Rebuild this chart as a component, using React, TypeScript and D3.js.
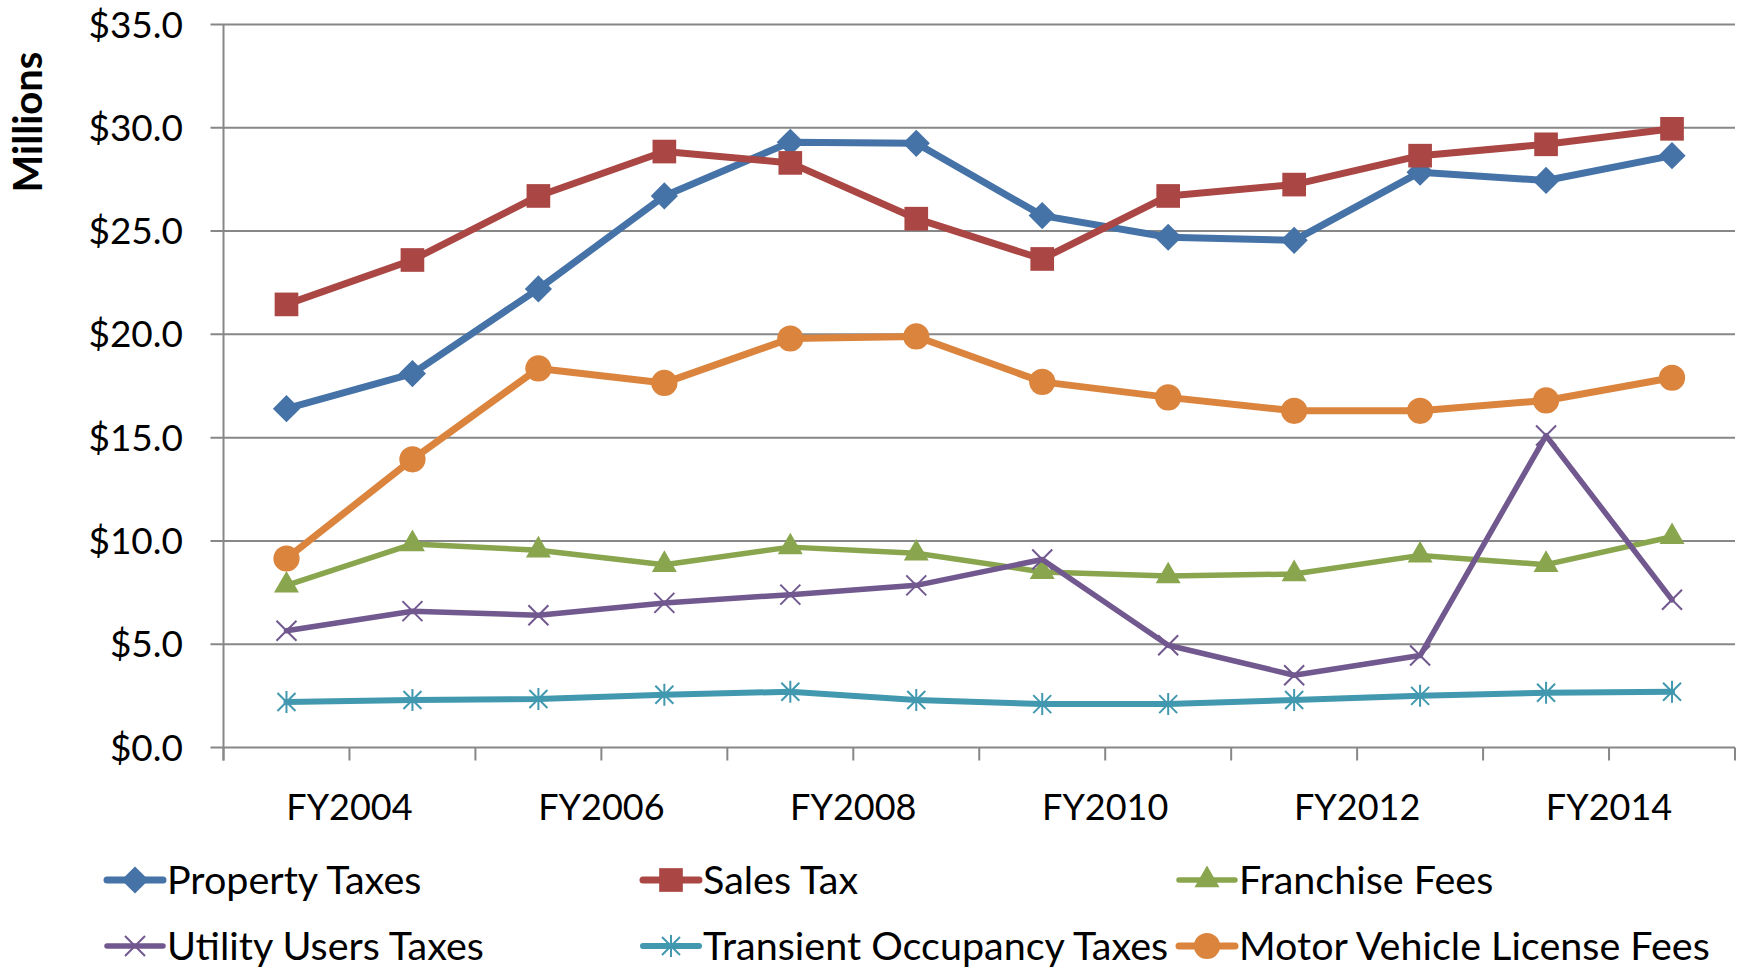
import React, { useEffect, useRef } from "react";
import * as d3 from "d3";

// fiscal years on the category axis
const years = ["FY2004", "FY2005", "FY2006", "FY2007", "FY2008", "FY2009", "FY2010", "FY2011", "FY2012", "FY2013", "FY2014", "FY2015"];
const yTicks = [0, 5, 10, 15, 20, 25, 30, 35];

// values in $ millions
const propertyTaxes = [16.4, 18.1, 22.2, 26.7, 29.3, 29.25, 25.75, 24.7, 24.55, 27.85, 27.45, 28.65];
const salesTax = [21.45, 23.6, 26.7, 28.85, 28.3, 25.6, 23.65, 26.7, 27.25, 28.65, 29.2, 29.95];
const franchiseFees = [7.85, 9.85, 9.55, 8.85, 9.7, 9.4, 8.5, 8.3, 8.4, 9.3, 8.85, 10.2];
const utilityUsersTaxes = [5.65, 6.6, 6.4, 7.0, 7.4, 7.85, 9.1, 4.95, 3.5, 4.45, 15.1, 7.15];
const transientOccupancyTaxes = [2.2, 2.3, 2.35, 2.55, 2.7, 2.3, 2.1, 2.1, 2.3, 2.5, 2.65, 2.7];
const motorVehicleFees = [9.15, 13.95, 18.35, 17.65, 19.8, 19.9, 17.7, 16.95, 16.3, 16.3, 16.8, 17.9];

type Marker = "diamond" | "square" | "triangle" | "x" | "star" | "circle";

interface Series {
  name: string;
  values: number[];
  color: string;
  marker: Marker;
  width: number;
}

const series: Series[] = [
  { name: "Property Taxes", values: propertyTaxes, color: "#4572A7", marker: "diamond", width: 7 },
  { name: "Sales Tax", values: salesTax, color: "#AA4643", marker: "square", width: 7 },
  { name: "Franchise Fees", values: franchiseFees, color: "#89A54E", marker: "triangle", width: 5.5 },
  { name: "Utility Users Taxes", values: utilityUsersTaxes, color: "#71588F", marker: "x", width: 5.5 },
  { name: "Transient Occupancy Taxes", values: transientOccupancyTaxes, color: "#4198AF", marker: "star", width: 6 },
  { name: "Motor Vehicle License Fees", values: motorVehicleFees, color: "#DB843D", marker: "circle", width: 7 },
];

const FONT = "Lato, 'Open Sans', sans-serif";

// draws one marker centred at (cx, cy)
function drawMarker(g: d3.Selection<SVGGElement, unknown, null, undefined>, m: Marker, color: string, cx: number, cy: number) {
  if (m === "diamond") {
    g.append("path")
      .attr("d", d3.symbol(d3.symbolSquare, 370)()!)
      .attr("transform", `translate(${cx},${cy}) rotate(45)`)
      .attr("fill", color);
  } else if (m === "square") {
    g.append("path")
      .attr("d", d3.symbol(d3.symbolSquare, 560)()!)
      .attr("transform", `translate(${cx},${cy})`)
      .attr("fill", color);
  } else if (m === "circle") {
    g.append("path")
      .attr("d", d3.symbol(d3.symbolCircle, 540)()!)
      .attr("transform", `translate(${cx},${cy})`)
      .attr("fill", color);
  } else if (m === "triangle") {
    g.append("path")
      .attr("d", d3.symbol(d3.symbolTriangle, 270)()!)
      .attr("transform", `translate(${cx},${cy})`)
      .attr("fill", color);
  } else if (m === "x") {
    const r = 10;
    g.append("path")
      .attr("d", `M${-r},${-r}L${r},${r}M${-r},${r}L${r},${-r}`)
      .attr("transform", `translate(${cx},${cy})`)
      .attr("stroke", color)
      .attr("stroke-width", 2)
      .attr("fill", "none");
  } else {
    const r = 9;
    g.append("path")
      .attr("d", `M${-r},${-r}L${r},${r}M${-r},${r}L${r},${-r}M0,${-r - 2}L0,${r + 2}`)
      .attr("transform", `translate(${cx},${cy})`)
      .attr("stroke", color)
      .attr("stroke-width", 2)
      .attr("fill", "none");
  }
}

const RevenueChart: React.FC = () => {
  const ref = useRef<SVGSVGElement>(null);

  useEffect(() => {
    const svg = d3.select(ref.current);
    svg.selectAll("*").remove();

    const left = 223.5,
      right = 1735,
      top = 24.5,
      bottom = 747.5;

    const x = d3.scaleBand().domain(years).range([left, right]);
    const y = d3.scaleLinear().domain([0, 35]).range([bottom, top]);
    const cx = (i: number) => x(years[i])! + x.bandwidth() / 2;

    const grid = "#878787";

    // horizontal gridlines (they also poke out left as tick marks)
    svg
      .append("g")
      .selectAll("line")
      .data(yTicks)
      .enter()
      .append("line")
      .attr("x1", left - 13)
      .attr("x2", right)
      .attr("y1", (d) => y(d))
      .attr("y2", (d) => y(d))
      .attr("stroke", grid)
      .attr("stroke-width", 2);

    // y axis line
    svg
      .append("line")
      .attr("x1", left)
      .attr("x2", left)
      .attr("y1", top)
      .attr("y2", bottom + 13)
      .attr("stroke", grid)
      .attr("stroke-width", 2);

    // x tick marks at category boundaries
    const bounds = years.map((d) => x(d)!).concat([right]);
    svg
      .append("g")
      .selectAll("line")
      .data(bounds)
      .enter()
      .append("line")
      .attr("x1", (d) => d)
      .attr("x2", (d) => d)
      .attr("y1", bottom)
      .attr("y2", bottom + 13)
      .attr("stroke", grid)
      .attr("stroke-width", 2);

    // y tick labels
    svg
      .append("g")
      .selectAll("text")
      .data(yTicks)
      .enter()
      .append("text")
      .attr("x", 183)
      .attr("y", (d) => y(d) + 13)
      .attr("text-anchor", "end")
      .style("font-family", FONT)
      .style("font-size", "37px")
      .text((d) => "$" + d.toFixed(1));

    // x labels, every other year, centred over its two-year span
    svg
      .append("g")
      .selectAll("text")
      .data(years.filter((_, i) => i % 2 === 0))
      .enter()
      .append("text")
      .attr("x", (d) => x(d)! + x.bandwidth())
      .attr("y", 820)
      .attr("text-anchor", "middle")
      .style("font-family", FONT)
      .style("font-size", "36px")
      .text((d) => d);

    // axis title
    svg
      .append("text")
      .attr("transform", "translate(42,122) rotate(-90)")
      .attr("text-anchor", "middle")
      .style("font-family", FONT)
      .style("font-weight", "bold")
      .style("font-size", "40px")
      .text("Millions");

    // lines + markers
    const line = d3
      .line<number>()
      .x((_, i) => cx(i))
      .y((d) => y(d));

    series.forEach((s) => {
      const g = svg.append("g");
      g.append("path")
        .attr("d", line(s.values)!)
        .attr("fill", "none")
        .attr("stroke", s.color)
        .attr("stroke-width", s.width)
        .attr("stroke-linejoin", "round")
        .attr("stroke-linecap", "round");
      s.values.forEach((v, i) => drawMarker(g, s.marker, s.color, cx(i), y(v)));
    });

    // legend, 3 columns x 2 rows
    const colX = [107, 643, 1179];
    const rowY = [880, 946];
    series.forEach((s, i) => {
      const lx = colX[i % 3],
        ly = rowY[Math.floor(i / 3)];
      const g = svg.append("g");
      g.append("line")
        .attr("x1", lx)
        .attr("x2", lx + 56)
        .attr("y1", ly)
        .attr("y2", ly)
        .attr("stroke", s.color)
        .attr("stroke-width", s.width)
        .attr("stroke-linecap", "round");
      drawMarker(g, s.marker, s.color, lx + 28, ly);
      g.append("text")
        .attr("x", lx + 60)
        .attr("y", ly + 14)
        .style("font-family", FONT)
        .style("font-size", "39.5px")
        .text(s.name);
    });
  }, []);

  return <svg ref={ref} width={1744} height={968} style={{ position: "absolute", left: 0, top: 0, background: "#fff" }} />;
};

export default function App() {
  return <RevenueChart />;
}
